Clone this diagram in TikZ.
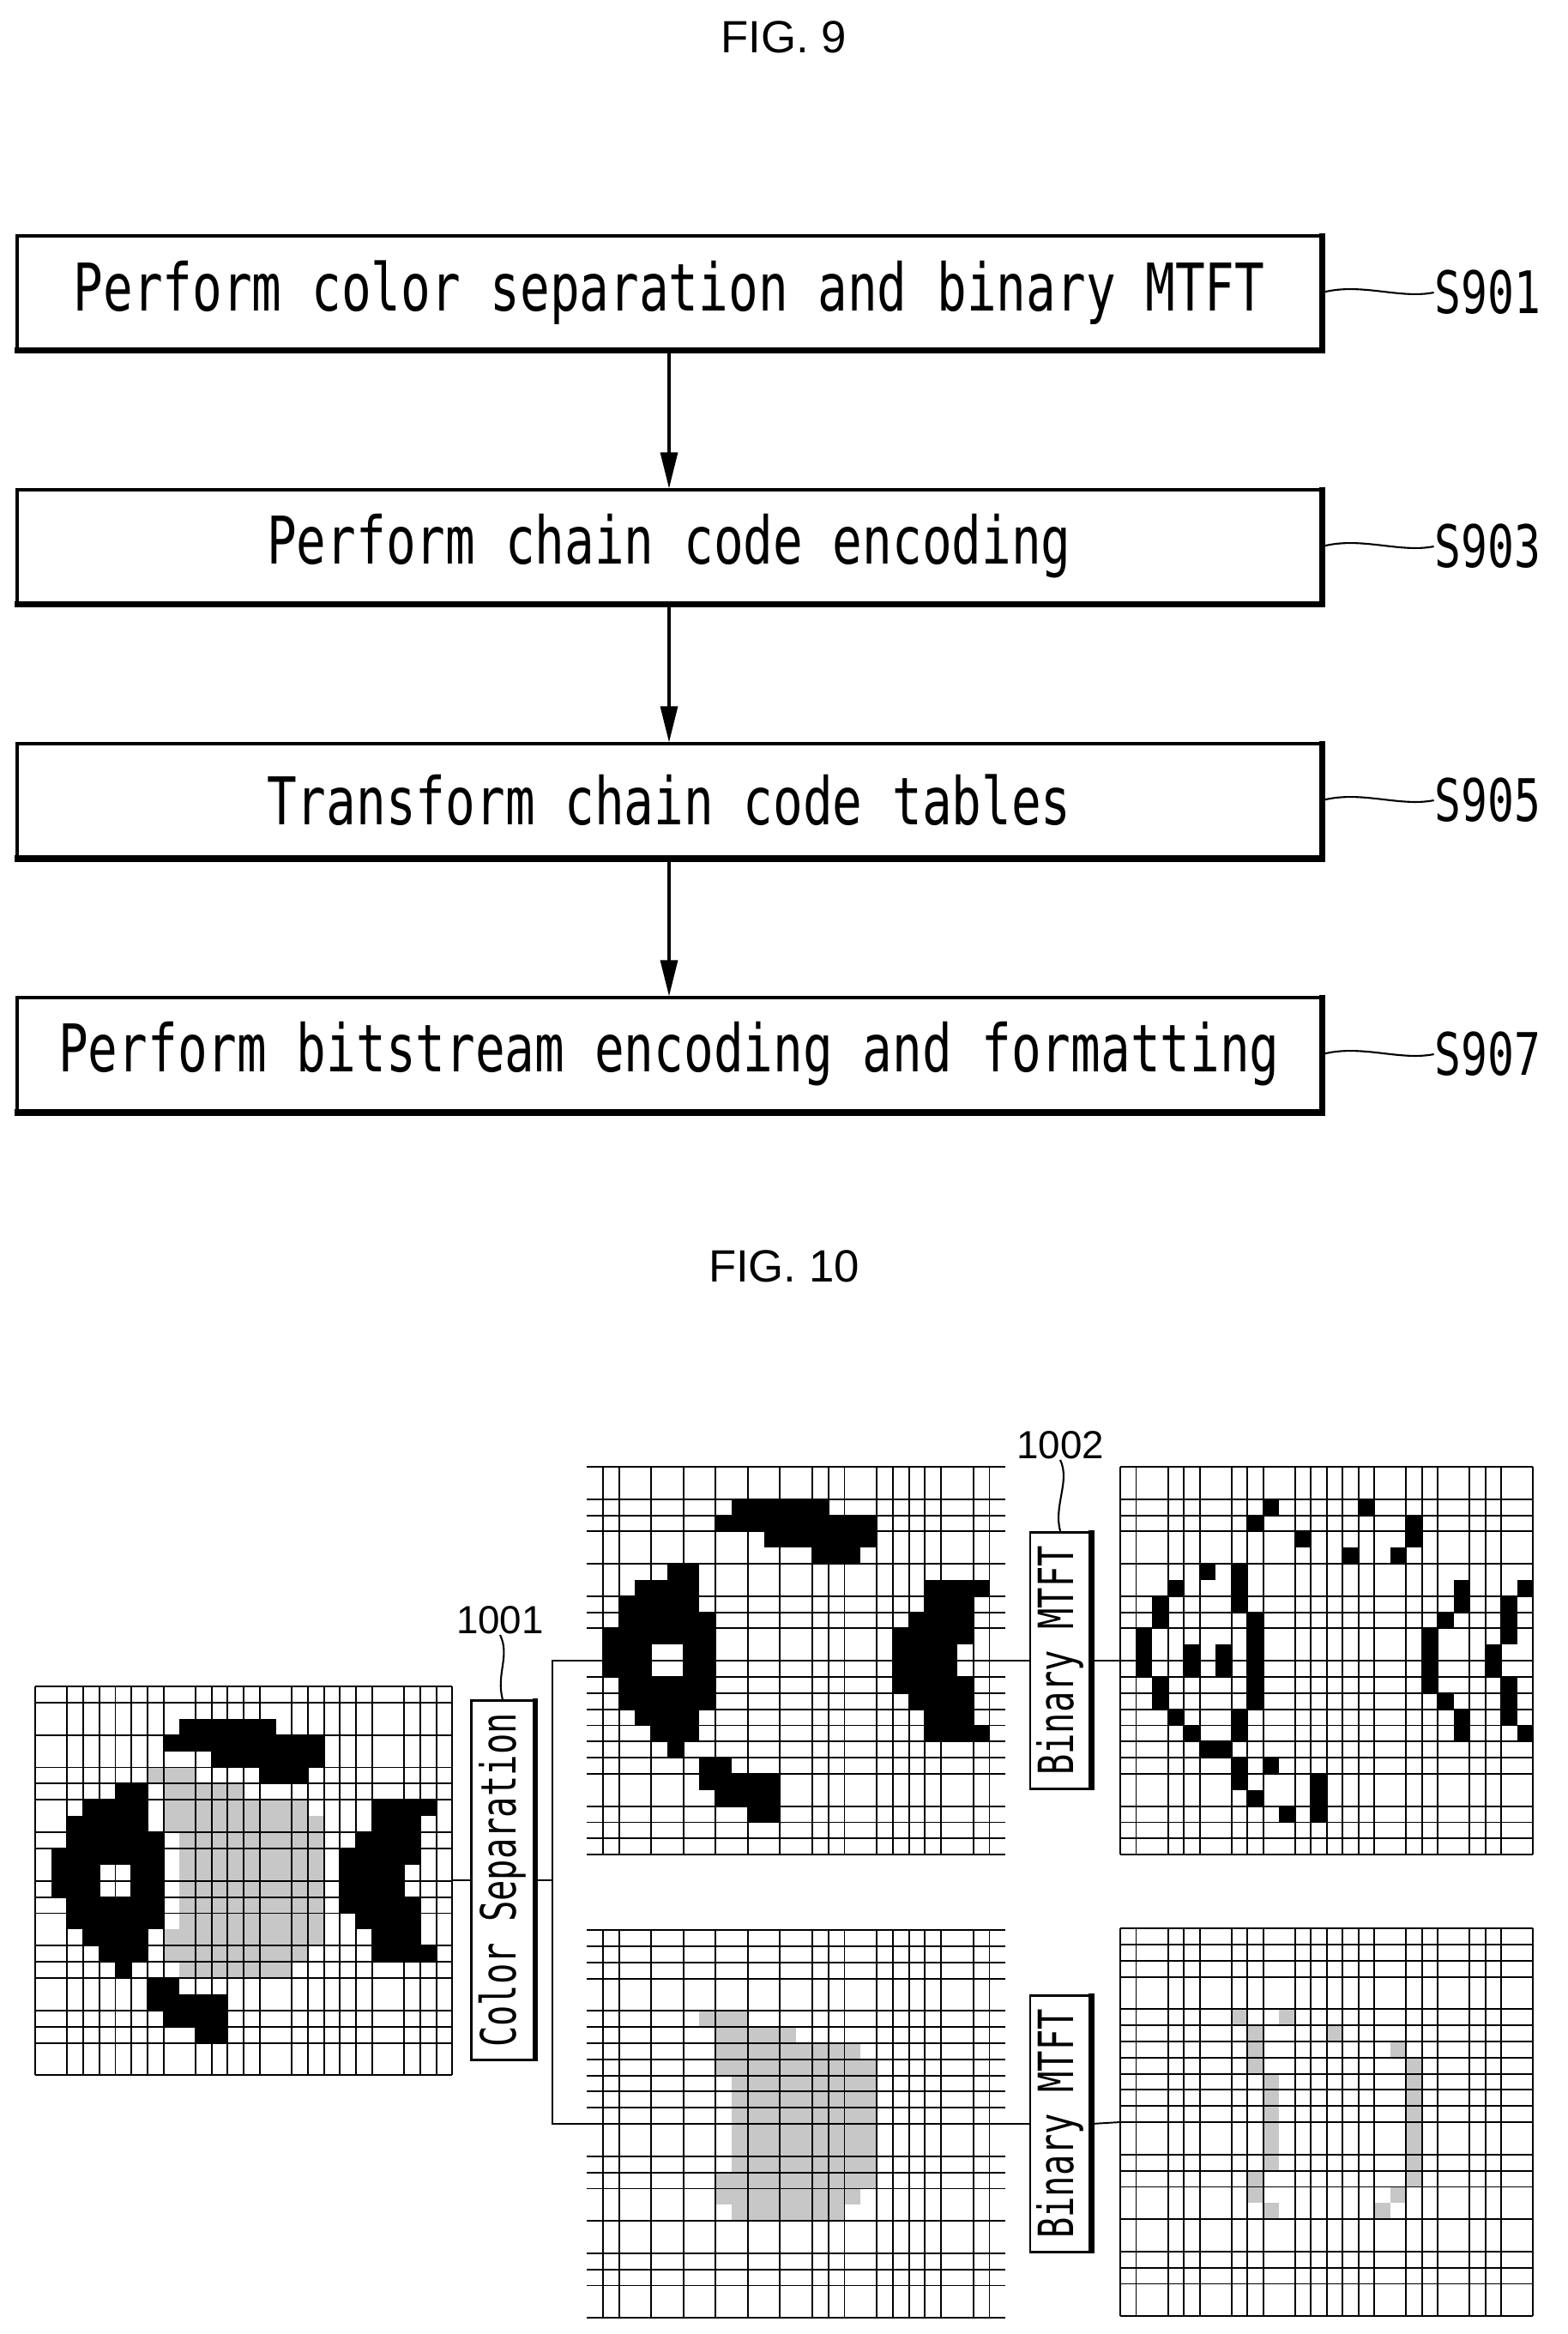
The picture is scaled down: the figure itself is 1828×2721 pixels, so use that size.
\documentclass[tikz,border=0pt]{standalone}
\usepackage{fontspec}
\setmainfont{Liberation Sans}
\newfontfamily\monof{DejaVu Sans Mono}
\usetikzlibrary{arrows.meta}
\begin{document}
\begin{tikzpicture}[x=0.01cm,y=-0.01cm,
  box/.style={draw,line width=0.9pt,minimum width=15.19cm,minimum height=1.32cm,inner sep=0,font=\monof\fontsize{16.4}{18}\selectfont},
  slab/.style={font=\monof\fontsize{14.6}{16}\selectfont,inner sep=0},
  lead/.style={line width=0.6pt},
  arr/.style={line width=0.9pt,-{Triangle[length=0.42cm,width=0.2cm]}},
  gl/.style={line width=0.55pt},
  blk/.style={fill=black},
  gry/.style={fill=black!22},
  vbox/.style={draw,line width=0.8pt,inner sep=0},
  vtxt/.style={rotate=90,inner sep=0,font=\monof\fontsize{11.5}{13}\selectfont},
  num/.style={inner sep=0,font=\fontsize{13}{15}\selectfont},
  gnode/.style={inner sep=0,outer sep=0}]
\useasboundingbox (0,0) rectangle (1828,2721);
\newcommand\pgrid[2]{\foreach \i in #1{\draw[gl] (\i,0) -- (\i,24);}
  \foreach \j in #2{\draw[gl] (0,\j) -- (26,\j);}}
\newcommand\blackcells{\foreach \r/\a/\b in {2/9/14,3/8/17,4/11/17,5/14/16,6/5/6,7/3/6,8/2/6,9/2/7,10/1/7,11/1/3,11/6/7,12/1/3,12/6/7,13/2/7,14/2/7,15/3/6,16/4/6,17/5/5,18/7/8,19/7/11,20/8/11,21/10/11,7/21/24,8/21/23,9/20/23,10/19/23,11/19/22,12/19/22,13/19/23,14/20/23,15/21/23,16/21/24}{\fill[blk] (\a,\r) rectangle (\b+1,\r+1);}}
\newcommand\graycells{\foreach \r/\a/\b in {5/7/9,6/8/12,7/8/16,8/8/17,9/9/17,10/9/17,11/9/17,12/9/17,13/9/17,14/9/17,15/8/17,16/8/16,17/9/15}{\fill[gry] (\a,\r) rectangle (\b+1,\r+1);}}
\def\lcols{0,2,3,4,5,6,7,8,10,11,12,13,14,16,17,18,19,20,21,23,24,25,26}
\def\lrows{0,1,3,5,6,7,9,10,12,13,14,16,17,18,20,21,22,24}
\def\midcols{1,2,4,6,8,10,12,14,15,16,18,19,20,21,22,24,25}
\def\rcols{0,1,3,4,5,7,8,9,11,12,13,14,15,16,18,19,20,22,23,24,26}
\def\toprows{0,2,3,4,6,8,9,10,12,13,14,15,16,17,18,19,21,22,23,24}
\def\botrows{0,1,2,3,5,6,7,8,9,10,11,12,14,15,16,18,20,21,22,24}

% FIG. 9
\node[inner sep=0,font=\fontsize{15}{17}\selectfont] (t9) at (914,43) {FIG. 9};
\node[box] (b1) at (780,341) {\scalebox{1}[1.33]{Perform color separation and binary MTFT}};
\node[box] (b2) at (780,637) {\scalebox{1}[1.33]{Perform chain code encoding}};
\node[box] (b3) at (780,933) {\scalebox{1}[1.33]{Transform chain code tables}};
\node[box] (b4) at (780,1229) {\scalebox{1}[1.33]{Perform bitstream encoding and formatting}};
\foreach \b in {b1,b2,b3,b4}{\draw[line width=2.2pt] ([yshift=0.4pt]\b.north east) -- (\b.south east) -- ([xshift=-0.4pt]\b.south west);}
\draw[arr] (b1.south) -- (b2.north);
\draw[arr] (b2.south) -- (b3.north);
\draw[arr] (b3.south) -- (b4.north);
\foreach \b/\s in {b1/S901,b2/S903,b3/S905,b4/S907}{
  \node[slab,anchor=west] (l\s) at ([xshift=1.3cm]\b.east) {\scalebox{1}[1.33]{\s}};
  \draw[lead] (\b.east) .. controls +(45,-12) and +(-40,8) .. (l\s.west);}

% FIG. 10
\node[inner sep=0,font=\fontsize{15}{17}\selectfont] (t10) at (914,1476) {FIG. 10};

% grids
\node[gnode,minimum width=4.86cm,minimum height=4.53cm] (gL) at (284,2192) {};
\node[gnode,minimum width=4.88cm,minimum height=4.52cm] (gTM) at (928,1936) {};
\node[gnode,minimum width=4.88cm,minimum height=4.52cm] (gBM) at (928,2476) {};
\node[gnode,minimum width=4.81cm,minimum height=4.52cm] (gTR) at (1546,1936) {};
\node[gnode,minimum width=4.81cm,minimum height=4.52cm] (gBR) at (1546,2474) {};

\begin{scope}[shift={(41,1966)},x=0.1869cm,y=-0.1888cm]
  \blackcells \graycells \pgrid{\lcols}{\lrows}
\end{scope}
\begin{scope}[shift={(684,1710)},x=0.1877cm,y=-0.1883cm]
  \blackcells \pgrid{\midcols}{\toprows}
\end{scope}
\begin{scope}[shift={(684,2250)},x=0.1877cm,y=-0.1883cm]
  \graycells \pgrid{\midcols}{\botrows}
\end{scope}
\begin{scope}[shift={(1306,1710)},x=0.185cm,y=-0.1883cm]
  \foreach \c/\r in {9/2,15/2,8/3,18/3,18/4,11/4,14/5,17/5,5/6,7/6,7/7,7/8,3/7,21/7,21/8,25/7,2/8,2/9,24/8,24/9,24/10,8/9,8/10,8/11,8/12,8/13,8/14,20/9,1/10,1/11,1/12,4/11,4/12,6/11,6/12,19/10,19/11,19/12,19/13,23/11,23/12,2/13,2/14,24/13,24/14,24/15,20/14,3/15,7/15,7/16,21/15,21/16,4/16,25/16,5/17,6/17,7/18,7/19,9/18,12/19,12/20,12/21,8/20,10/21}{\fill[blk] (\c,\r) rectangle (\c+1,\r+1);}
  \pgrid{\rcols}{\toprows}
\end{scope}
\begin{scope}[shift={(1306,2248)},x=0.185cm,y=-0.1883cm]
  \foreach \c/\r in {7/5,10/5,8/6,8/7,8/8,13/6,17/7,18/8,18/9,18/10,18/11,18/12,18/13,18/14,18/15,9/9,9/10,9/11,9/12,9/13,9/14,8/15,8/16,9/17,17/16,16/17}{\fill[gry] (\c,\r) rectangle (\c+1,\r+1);}
  \pgrid{\rcols}{\botrows}
\end{scope}

% Color separation
\node[vbox,minimum width=0.73cm,minimum height=4.18cm] (cs) at (586,2192) {};
\node[vtxt] (cst) at (cs.center) {\scalebox{1}[1.4]{Color Separation}};
\draw[line width=1.8pt] ([yshift=0.3pt]cs.north east) -- (cs.south east);
\node[num] (n1001) at (583,1889) {1001};
\draw[lead] (n1001.south) .. controls +(12,25) and +(-8,-30) .. (cs.north);
\coordinate (br) at (644,2192);
\draw[gl] (gL.east) -- (cs.west);
\draw[gl] (cs.east) -- (br);
\draw[gl] (gTM.west) -| (br) |- (gBM.west);

% Binary MTFT
\node[vbox,minimum width=0.70cm,minimum height=2.99cm] (m1) at (1236,1936) {};
\node[vtxt] (m1t) at (m1.center) {\scalebox{1}[1.4]{Binary MTFT}};
\node[vbox,minimum width=0.70cm,minimum height=2.99cm] (m2) at (1236,2476) {};
\node[vtxt] (m2t) at (m2.center) {\scalebox{1}[1.4]{Binary MTFT}};
\draw[line width=1.8pt] ([yshift=0.3pt]m1.north east) -- (m1.south east);
\draw[line width=1.8pt] ([yshift=0.3pt]m2.north east) -- (m2.south east);
\node[num] (n1002) at (1236,1685) {1002};
\draw[lead] (n1002.south) .. controls +(12,25) and +(-8,-30) .. (m1.north);
\draw[gl] (gTM.east) -- (m1.west);
\draw[gl] (m1.east) -- (gTR.west);
\draw[gl] (gBM.east) -- (m2.west);
\draw[gl] (m2.east) -- (gBR.west);
\end{tikzpicture}
\end{document}
